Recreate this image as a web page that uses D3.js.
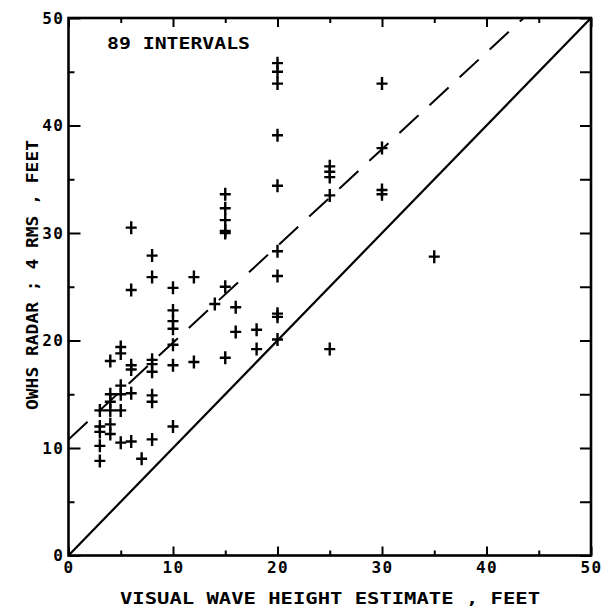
<!DOCTYPE html>
<html><head><meta charset="utf-8">
<script src="https://cdn.jsdelivr.net/npm/d3@7"></script>
<style>
html,body{margin:0;padding:0;background:#fff;}
svg{display:block;}
text{font-family:"DejaVu Sans Mono","Liberation Mono",monospace;font-weight:bold;fill:#000;}
</style></head>
<body>
<svg id="c" width="605" height="608"></svg>
<script>
// Visual wave height estimate (ft)
const visualFt = [3,3,3,3,3,4,4,4,4,4,4,5,5,5,5,5,5,6,6,6,6,7,8,8,8,8,8,8,
  10,10,10,10,10,10,10,12,12,6,6,8,8,14,15,15,15,15,15,15,15,16,16,18,18,
  20,20,20,20,20,20,20,20,20,20,25,25,25,25,25,30,30,30,30,35];
// OWHS radar 4 RMS (ft)
const radarFt = [8.8,10.2,11.5,12.0,13.5,11.3,12.2,13.5,14.3,15.0,18.1,10.5,13.5,15.0,15.8,18.8,19.4,10.6,15.1,17.3,17.7,9.0,10.8,14.3,14.9,17.1,17.8,18.2,
  12.0,17.7,19.6,21.1,21.8,22.8,24.9,18.0,25.9,24.7,30.5,25.9,27.9,23.4,18.4,25.0,30.0,30.2,31.2,32.3,33.6,20.8,23.1,19.2,21.0,
  20.1,22.2,22.5,26.0,28.3,34.4,39.1,43.9,45.0,45.8,19.2,33.5,35.2,35.7,36.2,33.6,34.0,37.9,43.9,27.8];
const majorTicks = [0,10,20,30,40,50];
const minorTicks = [5,15,25,35,45];
const fitLine = {intercept: 10.8, slope: 0.9};
const xTitle = "VISUAL WAVE HEIGHT ESTIMATE , FEET";
const yTitle = "OWHS RADAR ; 4 RMS , FEET";
const note = "89 INTERVALS";

const svg = d3.select("#c");
const L = 68.5, R = 591, T = 18, B = 555.5;
const x = d3.scaleLinear().domain([0,50]).range([L,R]);
const y = d3.scaleLinear().domain([0,50]).range([B,T]);
const fmt = d => String(d);

function styleAxis(g){
  g.select(".domain").remove();
  g.selectAll(".tick line").attr("stroke","#000").attr("stroke-width",2);
  g.selectAll(".tick text").attr("font-size",16).attr("letter-spacing",1.5).style("font-family",'"DejaVu Sans Mono",monospace').style("font-weight","bold");
}
// bottom
svg.append("g").attr("transform",`translate(0,${B})`)
  .call(d3.axisBottom(x).tickValues(majorTicks).tickSize(-9).tickPadding(6).tickFormat(fmt)).call(styleAxis);
svg.append("g").attr("transform",`translate(0,${B})`)
  .call(d3.axisBottom(x).tickValues(minorTicks).tickSize(-5).tickFormat("")).call(styleAxis);
// top
svg.append("g").attr("transform",`translate(0,${T})`)
  .call(d3.axisTop(x).tickValues(majorTicks).tickSize(-9).tickFormat("")).call(styleAxis);
svg.append("g").attr("transform",`translate(0,${T})`)
  .call(d3.axisTop(x).tickValues(minorTicks).tickSize(-5).tickFormat("")).call(styleAxis);
// left
svg.append("g").attr("transform",`translate(${L},0)`)
  .call(d3.axisLeft(y).tickValues(majorTicks).tickSize(-12).tickPadding(4).tickFormat(fmt)).call(styleAxis);
svg.append("g").attr("transform",`translate(${L},0)`)
  .call(d3.axisLeft(y).tickValues(minorTicks).tickSize(-6).tickFormat("")).call(styleAxis);
// right
svg.append("g").attr("transform",`translate(${R},0)`)
  .call(d3.axisRight(y).tickValues(majorTicks).tickSize(-11).tickFormat("")).call(styleAxis);
svg.append("g").attr("transform",`translate(${R},0)`)
  .call(d3.axisRight(y).tickValues(minorTicks).tickSize(-11).tickFormat("")).call(styleAxis);

// frame
svg.append("rect").attr("x",L).attr("y",T).attr("width",R-L).attr("height",B-T)
  .attr("fill","none").attr("stroke","#000").attr("stroke-width",2.6);

// 1:1 line
svg.append("line").attr("x1",x(0)).attr("y1",y(0)).attr("x2",x(50)).attr("y2",y(50))
  .attr("stroke","#000").attr("stroke-width",2.2);
// fitted dashed line
const xEnd = (50 - fitLine.intercept)/fitLine.slope;
svg.append("line").attr("x1",x(0)).attr("y1",y(fitLine.intercept)).attr("x2",x(xEnd)).attr("y2",y(50))
  .attr("stroke","#000").attr("stroke-width",2).attr("stroke-dasharray","26,15");

// points as plus marks
const pts = visualFt.map((v,i)=>({v, r: radarFt[i]}));
svg.append("g").selectAll("path").data(pts).join("path")
  .attr("d", d => {
    const cx = x(d.v), cy = y(d.r);
    return `M${cx-5.5},${cy}H${cx+5.5}M${cx},${cy-6.5}V${cy+6.5}`;
  })
  .attr("stroke","#000").attr("stroke-width",2.4).attr("fill","none");

// note
svg.append("text").attr("x",107).attr("y",49).attr("font-size",16)
  .attr("textLength",143).attr("lengthAdjust","spacingAndGlyphs").text(note);
// x title
svg.append("text").attr("x",120).attr("y",604).attr("font-size",16)
  .attr("textLength",420).attr("lengthAdjust","spacingAndGlyphs").text(xTitle);
// y title
svg.append("text").attr("transform","translate(38,410) rotate(-90)").attr("font-size",16)
  .attr("textLength",270).attr("lengthAdjust","spacingAndGlyphs").text(yTitle);
</script>
</body></html>
